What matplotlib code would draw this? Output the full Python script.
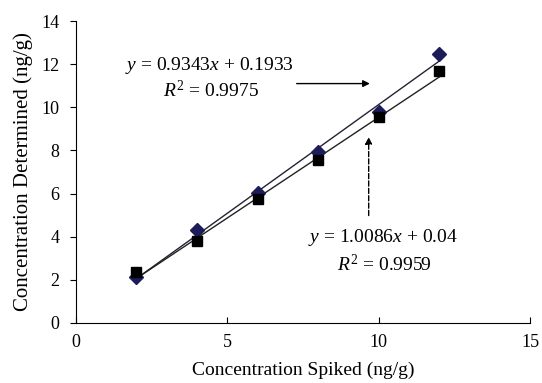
import matplotlib.pyplot as plt
import numpy as np

plt.rcParams['font.family'] = ['Liberation Serif', 'DejaVu Serif']
plt.rcParams['mathtext.fontset'] = 'custom'
plt.rcParams['mathtext.rm'] = 'Liberation Serif'
plt.rcParams['mathtext.it'] = 'Liberation Serif:italic'

# spiked concentrations and measured values
spiked = [2, 4, 6, 8, 10, 12]
diamond_vals = [2.13, 4.31, 6.03, 7.93, 9.80, 12.47]
square_vals = [2.35, 3.80, 5.74, 7.55, 9.55, 11.68]

# fitted trend lines (from the equations shown)
fit_diamond = (1.0086, 0.04)
fit_square = (0.9343, 0.1933)

xticks = [0, 5, 10, 15]
yticks = [0, 2, 4, 6, 8, 10, 12, 14]


def main():
    fig = plt.figure(figsize=(5.42, 3.83), dpi=100)
    ax = fig.add_axes([0.140, 0.157, 0.838, 0.788])

    xs = np.array([min(spiked), max(spiked)])
    ax.plot(xs, fit_diamond[0] * xs + fit_diamond[1], color="#222233", lw=1.0)
    ax.plot(xs, fit_square[0] * xs + fit_square[1], color="#222222", lw=1.0)

    ax.plot(spiked, diamond_vals, "D", color="#1c1c5a", ms=7, ls="none")
    ax.plot(spiked, square_vals, "s", color="black", ms=7, ls="none")

    ax.set_xlim(0, 15)
    ax.set_ylim(0, 14)
    ax.set_xticks(xticks)
    ax.set_yticks(yticks)
    ax.spines["top"].set_visible(False)
    ax.spines["right"].set_visible(False)
    ax.tick_params(axis="x", direction="in", length=4, labelsize=13, pad=8)
    ax.tick_params(axis="y", direction="out", length=4, labelsize=13, pad=8)

    ax.set_xlabel("Concentration Spiked (ng/g)", fontsize=14, labelpad=8)
    ax.set_ylabel("Concentration Determined (ng/g)", fontsize=15, labelpad=6)

    # equation labels
    ax.text(4.4, 11.96, r"$y$ = 0.9343$x$ + 0.1933", fontsize=14,
            ha="center", va="center")
    ax.text(4.45, 10.8, r"$R^2$ = 0.9975", fontsize=14,
            ha="center", va="center")
    ax.annotate("", xy=(9.8, 11.1), xytext=(7.2, 11.1),
                arrowprops=dict(arrowstyle="-|>", color="black", lw=1.0))

    ax.text(10.15, 3.98, r"$y$ = 1.0086$x$ + 0.04", fontsize=14,
            ha="center", va="center")
    ax.text(10.2, 2.69, r"$R^2$ = 0.9959", fontsize=14,
            ha="center", va="center")
    ax.annotate("", xy=(9.67, 8.75), xytext=(9.67, 4.85),
                arrowprops=dict(arrowstyle="-|>", color="black", lw=1.0,
                                linestyle="--"))

    fig.savefig("out.png", dpi=100)


if __name__ == "__main__":
    main()
